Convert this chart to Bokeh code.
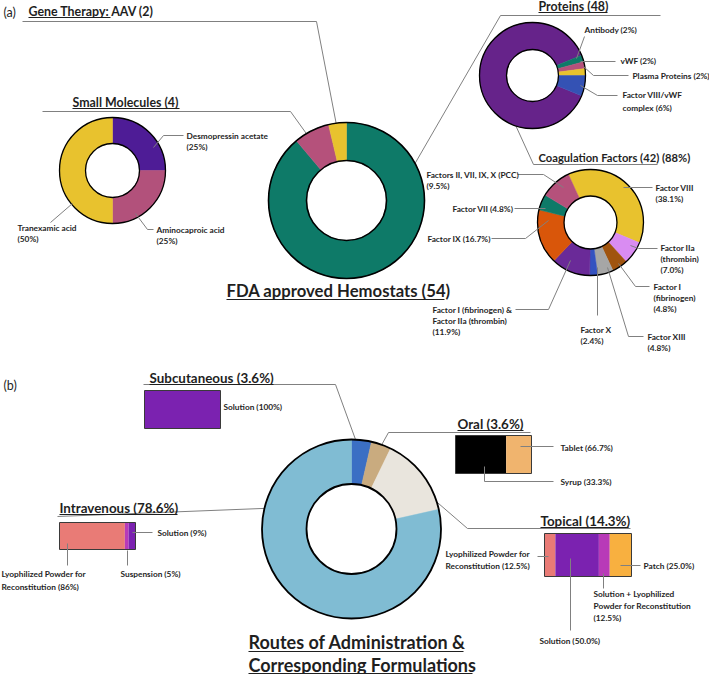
import numpy as np
from bokeh.plotting import figure
from bokeh.models import Range1d
from bokeh.embed import file_html
from bokeh.resources import INLINE
from bokeh.core.properties import value

# ---------------- data ----------------
hemostat_classes = ["Proteins", "Small Molecules", "Gene Therapy: AAV"]
hemostat_counts = [48, 4, 2]
hemostat_colors = ["#0e7a68", "#b5517b", "#e8c22e"]

small_mol_names = ["Desmopressin acetate", "Aminocaproic acid", "Tranexamic acid"]
small_mol_pct = [25, 25, 50]
small_mol_colors = ["#4e1c96", "#b2517b", "#e8c22e"]

protein_names = ["Coagulation Factors", "Antibody", "vWF", "Plasma Proteins", "Factor VIII/vWF complex"]
protein_counts = [42, 1, 1, 1, 3]
protein_pct = [88, 2, 2, 2, 6]
protein_colors = ["#66238a", "#0e7a68", "#b5517b", "#e8c22e", "#3452b4"]

coag_names = ["Factor VIII", "Factor IIa (thrombin)", "Factor I (fibrinogen)", "Factor XIII", "Factor X",
              "Factor I (fibrinogen) & Factor IIa (thrombin)", "Factor IX", "Factor VII",
              "Factors II, VII, IX, X (PCC)"]
coag_pct = [38.1, 7.0, 4.8, 4.8, 2.4, 11.9, 16.7, 4.8, 9.5]
coag_colors = ["#e8c22e", "#d98cf2", "#a0540f", "#a6a6a6", "#3452c0", "#6a2a98", "#d9560a", "#0e7a68", "#b5517b"]

routes = ["Subcutaneous", "Oral", "Topical", "Intravenous"]
route_pct = [3.6, 3.6, 14.3, 78.6]
route_colors = ["#3b6fc4", "#c9ab7f", "#e9e5dd", "#80bcd3"]

subq_forms = ["Solution"]
subq_pct = [100]
subq_colors = ["#7b22b0"]

iv_forms = ["Lyophilized Powder for Reconstitution", "Suspension", "Solution"]
iv_pct = [86, 5, 9]
iv_colors = ["#e97b76", "#b83ab8", "#7b22b0"]

oral_forms = ["Tablet", "Syrup"]
oral_pct = [66.7, 33.3]
oral_colors = ["#000000", "#f0b46e"]

topical_forms = ["Lyophilized Powder for Reconstitution", "Solution",
                 "Solution + Lyophilized Powder for Reconstitution", "Patch"]
topical_pct = [12.5, 50.0, 12.5, 25.0]
topical_colors = ["#e97b76", "#7b22b0", "#b83ab8", "#f8b040"]

# ---------------- figure ----------------
W, H = 709, 674
p = figure(width=W, height=H, x_range=Range1d(0, W), y_range=Range1d(0, H),
           output_backend="svg", toolbar_location=None, min_border=0)
p.axis.visible = False
p.grid.visible = False
p.outline_line_color = None
p.background_fill_color = "white"

FONT = value("Lato")
TXT = "#1f1f1f"
LEAD = "#808080"
LBL = "8.3px"


def Y(v):
    return H - v


def donut(cx, cy, r_in, r_out, values, colors, start_compass, lw=1.6):
    vals = np.array(values, float)
    frac = vals / vals.sum()
    cum = np.concatenate([[0.0], np.cumsum(frac)]) * 2 * np.pi
    a = np.deg2rad(start_compass) + cum
    starts = np.pi / 2 - a[1:]
    ends = np.pi / 2 - a[:-1]
    p.annular_wedge(x=cx, y=Y(cy), inner_radius=r_in, outer_radius=r_out,
                    start_angle=starts, end_angle=ends, fill_color=colors,
                    line_color=colors, line_width=0.5)
    for r in (r_in, r_out):
        p.circle(x=cx, y=Y(cy), radius=r, fill_color=None, line_color="black", line_width=lw)


def hbar(x0, x1, y0, y1, values, colors):
    vals = np.array(values, float)
    cum = np.concatenate([[0.0], np.cumsum(vals / vals.sum())])
    lefts = x0 + cum[:-1] * (x1 - x0)
    rights = x0 + cum[1:] * (x1 - x0)
    p.quad(left=lefts, right=rights, top=Y(y0), bottom=Y(y1), fill_color=colors, line_color=None)
    p.quad(left=x0, right=x1, top=Y(y0), bottom=Y(y1), fill_color=None, line_color="#3a3a3a", line_width=1)


def lead(pts, color=LEAD, w=1):
    p.line(x=[q[0] for q in pts], y=[Y(q[1]) for q in pts], line_color=color, line_width=w)


def label(x, y, lines, size=LBL, dy=11, bold=True, color=TXT):
    p.text(x=[x] * len(lines), y=[Y(y + i * dy) for i in range(len(lines))], text=lines,
           text_font=FONT, text_font_size=size, text_font_style="bold" if bold else "normal",
           text_baseline="middle", text_align="left", text_color=color)


def title(x, y, t, size="12.4px", ul=None, uly=None):
    p.text(x=[x], y=[Y(y)], text=[t], text_font=FONT, text_font_size=size, text_font_style="bold",
           text_baseline="middle", text_align="left", text_color=TXT)
    if ul is not None:
        p.line(x=[x, ul], y=[Y(uly), Y(uly)], line_color=TXT, line_width=1.2)


# ---------------- connectors (drawn first) ----------------
lead([(22, 21), (316, 21), (338, 135)])
lead([(42, 111), (290, 111), (313, 143)])
lead([(660, 15), (500, 15), (396, 195)])
lead([(512, 118), (533, 164), (657, 164)])
lead([(143, 384), (335, 384), (359, 450)])
lead([(378, 450), (388, 432), (530, 432)])
lead([(423, 490), (467, 528), (630, 528)])
lead([(57, 516), (287, 507)])

# ---------------- donuts ----------------
donut(346, 200, 40, 78, hemostat_counts, hemostat_colors, 0)
donut(112, 170, 27, 53, small_mol_pct, small_mol_colors, 0, lw=1.3)
donut(532, 75, 26, 53, protein_counts, protein_colors, 112.5, lw=1.3)
donut(590, 222, 26.5, 53, coag_pct, coag_colors, -24.7, lw=1.3)
donut(351, 528.5, 45, 89.5, route_pct, route_colors, 0, lw=1.8)

# ---------------- bars ----------------
hbar(144, 220, 390, 428, subq_pct, subq_colors)
hbar(59, 135, 522, 549, iv_pct, iv_colors)
hbar(455, 531, 435, 473, oral_pct, oral_colors)
hbar(544, 631, 533, 576, topical_pct, topical_colors)

# ---------------- leader lines for labels ----------------
for pts in [
    [(153, 147), (163, 135), (183, 135)],
    [(135, 213), (147, 229), (153, 229)],
    [(72, 203), (50, 222)],
    [(576, 58), (584, 36)],
    [(580, 61), (615, 61)],
    [(583, 66), (593, 75), (628, 75)],
    [(580, 85), (597, 95), (617, 95)],
    [(517, 174), (543, 174), (563, 187)],
    [(514, 208), (545, 208)],
    [(491, 238), (525, 238), (548, 220)],
    [(623, 187), (652, 187)],
    [(630, 245), (638, 248), (657, 248)],
    [(618, 263), (635, 286), (649, 286)],
    [(607, 267), (628, 336), (643, 336)],
    [(597, 267), (597, 315)],
    [(515, 309), (548, 309), (570, 260)],
    [(132, 532), (152, 532)],
    [(127, 550), (127, 565)],
    [(67, 543), (67, 565)],
    [(520, 446), (553, 446)],
    [(484, 466), (484, 481), (553, 481)],
    [(537, 556), (548, 556)],
    [(620, 565), (640, 565)],
    [(603, 573), (603, 588)],
    [(570, 558), (570, 630)],
]:
    lead(pts)

# ---------------- titles ----------------
label(3, 12, ["(a)"], size="12.5px", bold=False)
label(3, 385, ["(b)"], size="12.5px", bold=False)
title(28, 11, "Gene Therapy: AAV (2)", ul=110, uly=17)
title(72, 102, "Small Molecules (4)", ul=179, uly=108)
title(538, 6, "Proteins (48)", ul=607, uly=12)
title(538, 157, "Coagulation Factors (42) (88%)", size="11.2px")
title(226, 290, "FDA approved Hemostats (54)", size="16.7px", ul=444, uly=299)
title(149, 377, "Subcutaneous (3.6%)", size="13.4px", ul=273, uly=384)
title(457, 423, "Oral (3.6%)", size="13.4px", ul=523, uly=430)
title(59, 507, "Intravenous (78.6%)", size="13.4px", ul=177, uly=514)
title(540, 520, "Topical (14.3%)", size="13.4px", ul=628, uly=527)
title(248, 641, "Routes of Administration &", size="18px", ul=463, uly=651)
title(248, 664, "Corresponding Formulations", size="18px", ul=472, uly=673)

# ---------------- labels ----------------
label(186, 135, [f"{small_mol_names[0]}", f"({small_mol_pct[0]}%)"])
label(156, 229, [f"{small_mol_names[1]}", f"({small_mol_pct[1]}%)"])
label(17, 227, [f"{small_mol_names[2]}", f"({small_mol_pct[2]}%)"])

label(584, 29, [f"{protein_names[1]} ({protein_pct[1]}%)"])
label(620, 60, [f"{protein_names[2]} ({protein_pct[2]}%)"])
label(632, 75, [f"{protein_names[3]} ({protein_pct[3]}%)"])
label(622, 94, ["Factor VIII/vWF", f"complex ({protein_pct[4]}%)"], dy=13)

label(426, 174, [f"{coag_names[8]}", f"({coag_pct[8]}%)"])
label(452, 208, [f"{coag_names[7]} ({coag_pct[7]}%)"])
label(427, 238, [f"{coag_names[6]} ({coag_pct[6]}%)"])
label(655, 187, [coag_names[0], f"({coag_pct[0]}%)"])
label(660, 247, ["Factor IIa", "(thrombin)", f"({coag_pct[1]}%)"])
label(653, 286, ["Factor I", "(fibrinogen)", f"({coag_pct[2]}%)"])
label(647, 336, [coag_names[3], f"({coag_pct[3]}%)"])
label(580, 329, [coag_names[4], f"({coag_pct[4]}%)"])
label(432, 309, ["Factor I (fibrinogen) &", "Factor IIa (thrombin)", f"({coag_pct[5]}%)"])

label(223, 406, [f"{subq_forms[0]} ({subq_pct[0]}%)"])
label(157, 532, [f"{iv_forms[2]} ({iv_pct[2]}%)"])
label(120, 573, [f"{iv_forms[1]} ({iv_pct[1]}%)"])
label(1, 573, ["Lyophilized Powder for", f"Reconstitution ({iv_pct[0]}%)"], dy=13)
label(560, 447, [f"{oral_forms[0]} ({oral_pct[0]}%)"])
label(560, 481, [f"{oral_forms[1]} ({oral_pct[1]}%)"])
label(445, 553, ["Lyophilized Powder for", f"Reconstitution ({topical_pct[0]}%)"], dy=12)
label(643, 565, [f"{topical_forms[3]} ({topical_pct[3]}%)"])
label(593, 593, ["Solution + Lyophilized", "Powder for Reconstitution", f"({topical_pct[2]}%)"], dy=12)
label(539, 640, [f"{topical_forms[1]} ({topical_pct[1]}%)"])

open("out.html", "w").write(file_html(p, INLINE))
